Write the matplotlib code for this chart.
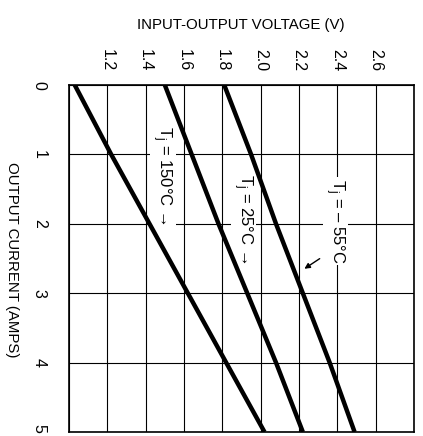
import matplotlib
matplotlib.use("Agg")
import matplotlib.pyplot as plt
import matplotlib.transforms as mtrans

plt.rcParams['font.family'] = ['Liberation Sans', 'DejaVu Sans']
plt.rcParams['mathtext.fontset'] = 'custom'
plt.rcParams['mathtext.rm'] = 'Liberation Sans'

# output current (A) and input-output voltage (V) for each junction temp
current = [0, 1, 2, 3, 4, 5]
v_150 = [1.03, 1.22, 1.42, 1.62, 1.82, 2.02]
v_25 = [1.50, 1.64, 1.78, 1.93, 2.08, 2.22]
v_m55 = [1.81, 1.95, 2.08, 2.22, 2.36, 2.49]

volt_ticks = [1.2, 1.4, 1.6, 1.8, 2.0, 2.2, 2.4, 2.6]
volt_labels = ["1.2", "1.4", "1.6", "1.8", "2.0", "2.2", "2.4", "2.6"]
amp_ticks = [0, 1, 2, 3, 4, 5]

fig = plt.figure(figsize=(4.23, 4.36), dpi=100)
ax = fig.add_axes([69/423, 1-432/436, 345/423, 347/436])

# chart is drawn turned on its side: voltage across, current downwards
for v in (v_150, v_25, v_m55):
    ax.plot(v, current, "k", lw=3.2, solid_capstyle="butt", zorder=4)

ax.set_xlim(1.0, 2.8)
ax.set_ylim(5, 0)
ax.set_xticks([1.0] + volt_ticks + [2.8])
ax.set_xticklabels([""] + volt_labels + [""])
ax.set_yticks(amp_ticks)
ax.xaxis.tick_top()
ax.tick_params(axis="x", length=0, pad=10, labelsize=11.5, rotation=-90)
ax.tick_params(axis="y", length=0, pad=16, labelsize=11.5, labelrotation=-90)
for lab in ax.get_yticklabels():
    lab.set_verticalalignment("center")
# last current label sits a bit higher so it stays on the page
last = ax.get_yticklabels()[-1]
last.set_transform(last.get_transform() + mtrans.ScaledTranslation(0, 4/100, fig.dpi_scale_trans))
ax.set_axisbelow(True)
ax.grid(True, color="k", lw=0.8)
for s in ax.spines.values():
    s.set_linewidth(1.2)
    s.set_zorder(5)

fig.text(241/423, 1-25/436, "INPUT-OUTPUT VOLTAGE (V)", ha="center", va="center", fontsize=10.8)
fig.text(12/423, 1-260/436, "OUTPUT CURRENT (AMPS)", ha="center", va="center",
         fontsize=10.8, rotation=-90)

box = dict(fc="white", ec="none", pad=1)
ax.text(1.49, 1.30, r"T$_\mathregular{j}$ = 150°C →", rotation=-90, ha="center", va="center",
        fontsize=12, bbox=box, zorder=3)
ax.text(1.91, 1.92, r"T$_\mathregular{j}$ = 25°C →", rotation=-90, ha="center", va="center",
        fontsize=12, bbox=box, zorder=3)
ax.text(2.39, 1.96, r"T$_\mathregular{j}$ = – 55°C", rotation=-90, ha="center", va="center",
        fontsize=12, bbox=box, zorder=3)
ax.annotate("", xy=(2.216, 2.67), xytext=(2.32, 2.48),
            arrowprops=dict(arrowstyle="-|>", color="k", lw=1, mutation_scale=8), zorder=4)

fig.savefig("out.png", dpi=100)
